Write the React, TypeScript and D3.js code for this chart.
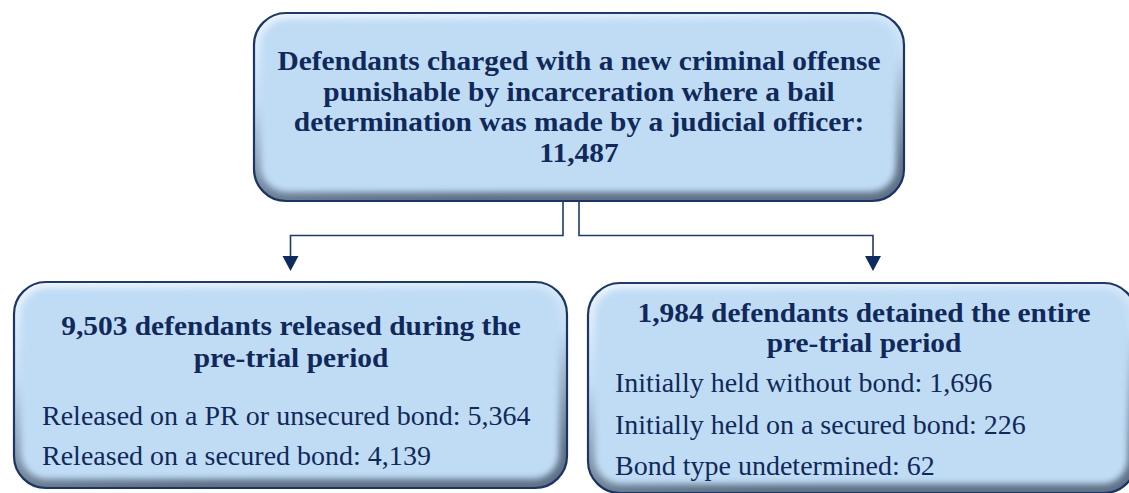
import React, { useRef, useEffect } from 'react';
import * as d3 from 'd3';

// Values
const rootLines = [
  'Defendants charged with a new criminal offense',
  'punishable by incarceration where a bail',
  'determination was made by a judicial officer:',
];
const rootTotal = 11487;

const branchCounts = [9503, 1984];
const branchTitleRest = [
  ['defendants released during the', 'pre-trial period'],
  ['defendants detained the entire', 'pre-trial period'],
];

const releasedLabels = ['Released on a PR or unsecured bond', 'Released on a secured bond'];
const releasedValues = [5364, 4139];

const detainedLabels = ['Initially held without bond', 'Initially held on a secured bond', 'Bond type undetermined'];
const detainedValues = [1696, 226, 62];

const W = 1129;
const H = 493;
const NAVY = '#10295a';
const LINE = '#1f3a6b';
const FONT = 'Liberation Serif';
const FS = 27;
// the source text is drawn a little wider than the font
const SX_BOLD = 1.09;
const SX_REG = 1.038;

const fmt = d3.format(',');

type Box = { x: number; y: number; w: number; h: number; r: number };

export default function App() {
  const svgRef = useRef<SVGSVGElement>(null);

  useEffect(() => {
    if (!svgRef.current) return;
    const svg = d3.select(svgRef.current);
    svg.selectAll('*').remove();

    const defs = svg.append('defs');

    const bevel = defs
      .append('linearGradient')
      .attr('id', 'bevel')
      .attr('x1', 0)
      .attr('y1', 0)
      .attr('x2', 0.25)
      .attr('y2', 1);
    bevel.append('stop').attr('offset', '0%').attr('stop-color', '#eef6fd');
    bevel.append('stop').attr('offset', '45%').attr('stop-color', '#c3ddf4');
    bevel.append('stop').attr('offset', '100%').attr('stop-color', '#5f7186');

    defs
      .append('filter')
      .attr('id', 'soft')
      .attr('x', '-10%')
      .attr('y', '-10%')
      .attr('width', '120%')
      .attr('height', '120%')
      .append('feGaussianBlur')
      .attr('stdDeviation', 3.2);

    const boxLayer = svg.append('g');
    const lineLayer = svg.append('g');
    const textLayer = svg.append('g');

    const drawBox = (b: Box) => {
      boxLayer
        .append('rect')
        .attr('x', b.x)
        .attr('y', b.y)
        .attr('width', b.w)
        .attr('height', b.h)
        .attr('rx', b.r)
        .attr('fill', 'url(#bevel)')
        .attr('stroke', '#1c3463')
        .attr('stroke-width', 2.2);
      // flat face of the bevelled button
      boxLayer
        .append('rect')
        .attr('x', b.x + 7)
        .attr('y', b.y + 6)
        .attr('width', b.w - 15)
        .attr('height', b.h - 15)
        .attr('rx', b.r - 6)
        .attr('fill', '#c0dcf5')
        .attr('filter', 'url(#soft)');
    };

    const addText = (t: string, x: number, y: number, anchor: string, bold: boolean) => {
      textLayer
        .append('text')
        .attr('transform', `translate(${x},${y}) scale(${bold ? SX_BOLD : SX_REG},1)`)
        .attr('text-anchor', anchor)
        .attr('fill', NAVY)
        .attr('font-family', FONT)
        .attr('font-weight', bold ? 'bold' : 'normal')
        .attr('font-size', FS)
        .text(t);
    };

    const topBox: Box = { x: 254, y: 13, w: 650, h: 188, r: 32 };
    const leftBox: Box = { x: 14, y: 282, w: 553, h: 206, r: 32 };
    const rightBox: Box = { x: 588, y: 283, w: 548, h: 210, r: 32 };

    // Connectors
    const connectors = [
      { x0: 563, xTo: 290.5, yMid: 235.5 },
      { x0: 579, xTo: 873, yMid: 235.5 },
    ];
    connectors.forEach((c) => {
      const p = d3.path();
      p.moveTo(c.x0, topBox.y + topBox.h);
      p.lineTo(c.x0, c.yMid);
      p.lineTo(c.xTo, c.yMid);
      p.lineTo(c.xTo, 257);
      lineLayer.append('path').attr('d', p.toString()).attr('fill', 'none').attr('stroke', LINE).attr('stroke-width', 1.6);
      const a = d3.path();
      a.moveTo(c.xTo - 8, 256);
      a.lineTo(c.xTo + 8, 256);
      a.lineTo(c.xTo, 271);
      a.closePath();
      lineLayer.append('path').attr('d', a.toString()).attr('fill', '#0f2a5c');
    });

    // Top node
    drawBox(topBox);
    const cx = topBox.x + topBox.w / 2;
    [...rootLines, fmt(rootTotal)].forEach((t, i) => {
      addText(t, cx, 70 + i * 30.7, 'middle', true);
    });

    // Branch nodes
    const branches = [
      { box: leftBox, tx: 291, titleY: 335, lineGap: 32, itemsX: 42, itemsY: 425, itemGap: 40, labels: releasedLabels, values: releasedValues },
      { box: rightBox, tx: 864, titleY: 322, lineGap: 30, itemsX: 615, itemsY: 392, itemGap: 41.5, labels: detainedLabels, values: detainedValues },
    ];

    branches.forEach((br, bi) => {
      drawBox(br.box);
      const title = [`${fmt(branchCounts[bi])} ${branchTitleRest[bi][0]}`, branchTitleRest[bi][1]];
      title.forEach((t, i) => {
        addText(t, br.tx, br.titleY + i * br.lineGap, 'middle', true);
      });
      br.labels.forEach((lab, i) => {
        addText(`${lab}: ${fmt(br.values[i])}`, br.itemsX, br.itemsY + i * br.itemGap, 'start', false);
      });
    });
  }, []);

  return (
    <svg
      ref={svgRef}
      width={W}
      height={H}
      style={{ position: 'absolute', left: 0, top: 0, display: 'block', background: '#ffffff' }}
    />
  );
}
